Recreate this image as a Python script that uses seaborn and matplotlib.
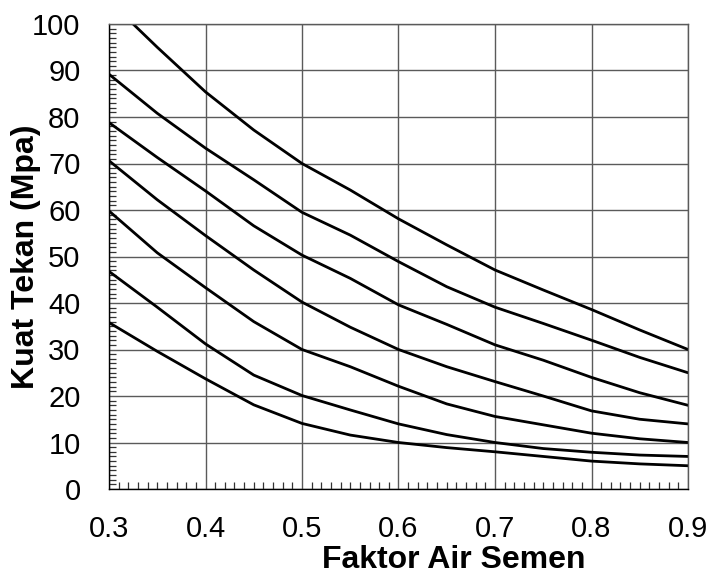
import numpy as np
import pandas as pd
import matplotlib
matplotlib.use("Agg")
import matplotlib.pyplot as plt
from matplotlib.ticker import MultipleLocator
import seaborn as sns

# ---- data ----
x_common = [0.30, 0.35, 0.40, 0.45, 0.50, 0.55, 0.60, 0.65, 0.70, 0.75, 0.80, 0.85, 0.90]
x_curve1 = [0.325, 0.35, 0.40, 0.45, 0.50, 0.55, 0.60, 0.65, 0.70, 0.75, 0.80, 0.85, 0.90]
curve1 = [100.0, 95.0, 85.4, 77.2, 70.0, 64.3, 58.1, 52.5, 47.1, 42.8, 38.6, 34.2, 30.0]
curve2 = [89.2, 80.8, 73.3, 66.5, 59.5, 54.6, 48.9, 43.5, 39.1, 35.6, 32.0, 28.3, 25.0]
curve3 = [78.8, 71.3, 64.1, 56.6, 50.3, 45.3, 39.6, 35.4, 31.0, 27.7, 24.0, 20.7, 18.0]
curve4 = [70.6, 62.2, 54.5, 47.1, 40.2, 34.8, 30.0, 26.3, 23.1, 20.0, 16.8, 15.0, 14.0]
curve5 = [59.8, 50.8, 43.3, 36.0, 30.0, 26.3, 22.1, 18.3, 15.6, 13.8, 12.0, 10.8, 10.0]
curve6 = [46.8, 39.1, 31.2, 24.5, 20.1, 17.0, 14.0, 11.7, 10.0, 8.7, 7.9, 7.3, 7.0]
curve7 = [35.8, 29.6, 23.7, 18.1, 14.1, 11.6, 10.0, 8.9, 8.0, 7.0, 6.0, 5.4, 5.0]

x_ticks = [0.3, 0.4, 0.5, 0.6, 0.7, 0.8, 0.9]
y_ticks = [0, 10, 20, 30, 40, 50, 60, 70, 80, 90, 100]
x_label = "Faktor Air Semen"
y_label = "Kuat Tekan (Mpa)"

series = {
    "c1": (x_curve1, curve1),
    "c2": (x_common, curve2),
    "c3": (x_common, curve3),
    "c4": (x_common, curve4),
    "c5": (x_common, curve5),
    "c6": (x_common, curve6),
    "c7": (x_common, curve7),
}
frames = []
for name, (xs, ys) in series.items():
    frames.append(pd.DataFrame({"fas": xs, "kuat": ys, "kurva": name}))
df = pd.concat(frames, ignore_index=True)

# ---- style ----
sns.set_theme(style="white")
plt.rcParams["font.family"] = ["Liberation Sans", "DejaVu Sans"]

fig = plt.figure(figsize=(7.13, 5.78), dpi=100)
ax = fig.add_axes([109 / 713, 1 - 489 / 578, 579 / 713, 465 / 578])

sns.lineplot(data=df, x="fas", y="kuat", units="kurva", estimator=None,
             color="black", linewidth=2.0, sort=True, ax=ax, legend=False)

ax.set_xlim(0.3, 0.9)
ax.set_ylim(0, 100)
ax.set_xticks(x_ticks)
ax.set_yticks(y_ticks)
ax.set_xticklabels([f"{v:.1f}" for v in x_ticks])
ax.set_yticklabels([str(v) for v in y_ticks])
ax.xaxis.set_minor_locator(MultipleLocator(0.01))
ax.yaxis.set_minor_locator(MultipleLocator(1))

ax.grid(True, which="major", color="#5a5a5a", linewidth=1.0)
ax.set_axisbelow(True)

ax.tick_params(axis="both", which="major", direction="out", length=6.5,
               width=1.0, color="black", labelsize=21, labelcolor="black")
ax.tick_params(axis="x", which="major", pad=12)
ax.tick_params(axis="y", which="major", pad=14)
ax.tick_params(axis="both", which="minor", direction="in", length=5,
               width=0.9, color="#333333")
ax.tick_params(axis="x", which="minor", bottom=True)
ax.tick_params(axis="y", which="minor", left=True)

for side in ["left", "bottom"]:
    ax.spines[side].set_color("black")
    ax.spines[side].set_linewidth(1.0)
for side in ["top", "right"]:
    ax.spines[side].set_color("#5a5a5a")
    ax.spines[side].set_linewidth(1.0)

ax.set_xlabel(x_label, fontsize=23, fontweight="bold", color="black")
ax.set_ylabel(y_label, fontsize=23, fontweight="bold", color="black")
ax.xaxis.set_label_coords((454 - 109) / 579, -(545 - 489) / 465)
ax.yaxis.set_label_coords(-(109 - 41) / 579, 0.5)

fig.savefig("out.png", dpi=100)
